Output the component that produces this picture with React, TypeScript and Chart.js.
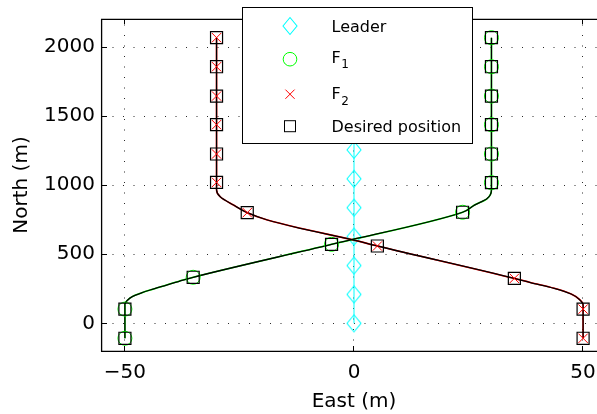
import React, { useEffect, useRef } from "react";
import { Chart, registerables } from "chart.js";

Chart.register(...registerables);

const FONT = "'DejaVu Sans', sans-serif";

// axis ticks / labels
const xTicks = [-50, 0, 50];
const yTicks = [0, 500, 1000, 1500, 2000];
const xLabel = "East (m)";
const yLabel = "North (m)";
const legendMain = ["Leader", "F", "F", "Desired position"];
const legendSub = ["", "1", "2", ""];

// leader positions
const leaderEast = [0, 0, 0, 0, 0, 0, 0, 0, 0, 0, 0];
const leaderNorth = [0, 209, 418, 627, 836, 1045, 1254, 1463, 1672, 1881, 2090];

// follower 1 sampled positions
const f1East = [-50, -50, -35.1, -4.9, 23.7, 30, 30, 30, 30, 30, 30];
const f1North = [-108, 103, 333, 571, 803, 1017, 1224, 1436, 1643, 1855, 2065];

// follower 2 sampled positions
const f2East = [50, 50, 35.0, 5.1, -23.3, -30, -30, -30, -30, -30, -30];
const f2North = [-108, 103, 325, 559, 800, 1019, 1224, 1436, 1643, 1855, 2065];

// traced trajectories
const f1PathEast = [-50, -50, -50, -49.5, -48.3, -46.4, -44.5, -40.9, -37.3, -35.1, -4.9, 23.7, 26.3, 29.0, 30, 30, 30];
const f1PathNorth = [-108, 103, 139, 165, 195, 220, 241, 277, 313, 333, 571, 803, 855, 900, 964, 1017, 2065];

const f2PathEast = [50, 50, 50, 49.2, 47.4, 43.7, 38.5, 35.0, 5.1, -0.7, -11.7, -18.9, -23.3, -26.3, -29.2, -30, -30, -30];
const f2PathNorth = [-108, 103, 132, 173, 212, 253, 295, 325, 559, 607, 687, 747, 800, 855, 915, 964, 1019, 2065];

const CYAN = "#00ffff";
const GREEN = "#00ff00";
const RED = "#ff0000";

const pts = (xs: number[], ys: number[]) => xs.map((x, i) => ({ x, y: ys[i] }));

function makeDiamond(): HTMLCanvasElement {
  const c = document.createElement("canvas");
  c.width = 18;
  c.height = 20;
  const g = c.getContext("2d")!;
  g.strokeStyle = CYAN;
  g.lineWidth = 1.1;
  g.beginPath();
  g.moveTo(2, 10);
  g.lineTo(9, 1.5);
  g.lineTo(16, 10);
  g.lineTo(9, 18.5);
  g.closePath();
  g.stroke();
  return c;
}

export default function App() {
  const ref = useRef<HTMLCanvasElement>(null);

  useEffect(() => {
    if (!ref.current) return;
    const diamond = makeDiamond();

    const plugin = {
      id: "matlabStyle",
      beforeDatasetsDraw(chart: any) {
        const { ctx, chartArea: a, scales } = chart;
        ctx.save();
        ctx.strokeStyle = "#2a2a2a";
        ctx.lineWidth = 1;
        ctx.setLineDash([1, 9.5]);
        xTicks.forEach((v) => {
          const px = Math.round(scales.x.getPixelForValue(v)) - 0.5;
          ctx.beginPath();
          ctx.moveTo(px, a.bottom);
          ctx.lineTo(px, a.top);
          ctx.stroke();
        });
        yTicks.forEach((v) => {
          const py = Math.round(scales.y.getPixelForValue(v)) + 0.5;
          ctx.beginPath();
          ctx.moveTo(a.left, py);
          ctx.lineTo(a.right, py);
          ctx.stroke();
        });
        ctx.restore();
      },
      afterDatasetsDraw(chart: any) {
        const { ctx, chartArea: a, scales } = chart;
        ctx.save();
        ctx.strokeStyle = "#000";
        ctx.lineWidth = 1.3;
        ctx.beginPath();
        ctx.moveTo(a.right, a.top + 0.3);
        ctx.lineTo(a.left - 0.4, a.top + 0.3);
        ctx.lineTo(a.left - 0.4, a.bottom + 0.3);
        ctx.lineTo(a.right, a.bottom + 0.3);
        ctx.stroke();
        ctx.lineWidth = 1;
        xTicks.forEach((v) => {
          const px = Math.round(scales.x.getPixelForValue(v)) - 0.5;
          ctx.beginPath();
          ctx.moveTo(px, a.bottom);
          ctx.lineTo(px, a.bottom - 5);
          ctx.moveTo(px, a.top);
          ctx.lineTo(px, a.top + 5);
          ctx.stroke();
        });
        yTicks.forEach((v) => {
          const py = Math.round(scales.y.getPixelForValue(v)) + 0.5;
          ctx.beginPath();
          ctx.moveTo(a.left, py);
          ctx.lineTo(a.left + 5, py);
          ctx.stroke();
        });
        ctx.restore();
      },
      afterDraw(chart: any) {
        const { ctx, chartArea: a } = chart;
        ctx.save();
        // axis titles
        ctx.fillStyle = "#000";
        ctx.font = `20px ${FONT}`;
        ctx.textAlign = "center";
        ctx.textBaseline = "alphabetic";
        ctx.fillText(xLabel, (a.left + a.right) / 2, 406.5);
        ctx.save();
        ctx.translate(26.5, (a.top + a.bottom) / 2);
        ctx.rotate(-Math.PI / 2);
        ctx.fillText(yLabel, 0, 0);
        ctx.restore();

        // legend box
        ctx.fillStyle = "#fff";
        ctx.fillRect(242, 7, 230, 136);
        ctx.strokeStyle = "#000";
        ctx.lineWidth = 1;
        ctx.strokeRect(242.5, 7.5, 230, 136);

        const mx = 290;
        ctx.drawImage(diamond, mx - 9, 16);
        ctx.strokeStyle = GREEN;
        ctx.beginPath();
        ctx.arc(mx, 59.2, 6.8, 0, Math.PI * 2);
        ctx.stroke();
        ctx.strokeStyle = RED;
        ctx.beginPath();
        ctx.moveTo(mx - 4.6, 94.2 - 4.6);
        ctx.lineTo(mx + 4.6, 94.2 + 4.6);
        ctx.moveTo(mx + 4.6, 94.2 - 4.6);
        ctx.lineTo(mx - 4.6, 94.2 + 4.6);
        ctx.stroke();
        ctx.strokeStyle = "#000";
        ctx.strokeRect(mx - 5.5, 126.2 - 5.5, 11, 11);

        ctx.fillStyle = "#000";
        ctx.textAlign = "left";
        const tx = 331.5;
        const baselines = [32, 62.7, 99.3, 132.3];
        const subBase = [0, 68.3, 105, 0];
        legendMain.forEach((t, i) => {
          ctx.font = `16px ${FONT}`;
          ctx.fillText(t, tx, baselines[i]);
          if (legendSub[i]) {
            const w = ctx.measureText(t).width;
            ctx.font = `12px ${FONT}`;
            ctx.fillText(legendSub[i], tx + w + 0.5, subBase[i]);
          }
        });
        ctx.restore();
      },
    };

    const lineCommon = {
      pointRadius: 0,
      cubicInterpolationMode: "monotone" as const,
      fill: false,
    };

    const chart = new Chart(ref.current, {
      type: "line",
      data: {
        datasets: [
          {
            label: "Leader",
            data: pts(leaderEast, leaderNorth),
            borderColor: CYAN,
            borderWidth: 1,
            pointStyle: diamond as any,
            pointRadius: 7,
            pointBorderColor: CYAN,
            pointBackgroundColor: "rgba(0,0,0,0)",
            order: 10,
          },
          {
            label: "F1 path",
            data: pts(f1PathEast, f1PathNorth),
            borderColor: GREEN,
            borderWidth: 1.6,
            ...lineCommon,
            order: 9,
          },
          {
            label: "F2 path",
            data: pts(f2PathEast, f2PathNorth),
            borderColor: RED,
            borderWidth: 1.6,
            ...lineCommon,
            order: 9,
          },
          {
            label: "Desired F1 path",
            data: pts(f1PathEast, f1PathNorth),
            borderColor: "#000",
            borderWidth: 1.3,
            ...lineCommon,
            order: 8,
          },
          {
            label: "Desired F2 path",
            data: pts(f2PathEast, f2PathNorth),
            borderColor: "#000",
            borderWidth: 1.3,
            ...lineCommon,
            order: 8,
          },
          {
            label: "F1",
            data: pts(f1East, f1North),
            showLine: false,
            pointStyle: "circle",
            pointRadius: 7,
            pointBorderWidth: 1,
            pointBorderColor: GREEN,
            pointBackgroundColor: "rgba(0,0,0,0)",
            order: 7,
          },
          {
            label: "Desired position F1",
            data: pts(f1East, f1North),
            showLine: false,
            pointStyle: "rect",
            pointRadius: 8.5,
            pointBorderWidth: 1.2,
            pointBorderColor: "#000",
            pointBackgroundColor: "rgba(0,0,0,0)",
            order: 6,
          },
          {
            label: "Desired position F2",
            data: pts(f2East, f2North),
            showLine: false,
            pointStyle: "rect",
            pointRadius: 8.5,
            pointBorderWidth: 1.2,
            pointBorderColor: "#000",
            pointBackgroundColor: "rgba(0,0,0,0)",
            order: 6,
          },
          {
            label: "F2",
            data: pts(f2East, f2North),
            showLine: false,
            pointStyle: "crossRot",
            pointRadius: 6.6,
            pointBorderWidth: 1,
            pointBorderColor: RED,
            pointBackgroundColor: "rgba(0,0,0,0)",
            order: 5,
          },
        ],
      },
      options: {
        responsive: false,
        animation: false,
        devicePixelRatio: 1,
        indexAxis: "y",
        events: [],
        layout: { autoPadding: false, padding: { left: 0, top: 19, right: 0, bottom: 0 } },
        plugins: { legend: { display: false }, tooltip: { enabled: false } },
        scales: {
          x: {
            type: "linear",
            position: "bottom",
            min: -55,
            max: 55,
            grid: { display: false, drawTicks: false },
            border: { display: false },
            ticks: {
              maxRotation: 0,
              minRotation: 0,
              autoSkip: false,
              color: "#000",
              padding: 10,
              font: { family: FONT, size: 20 },
              callback: (v: any) => (Number(v) < 0 ? "\u2212" + Math.abs(Number(v)) : String(v)),
            },
            afterBuildTicks: (s: any) => {
              s.ticks = xTicks.map((v) => ({ value: v }));
            },
            afterFit: (s: any) => {
              s.height = 63;
              s.paddingLeft = 0;
              s.paddingRight = 0;
            },
          },
          y: {
            type: "linear",
            position: "left",
            min: -200,
            max: 2200,
            grid: { display: false, drawTicks: false },
            border: { display: false },
            ticks: {
              autoSkip: false,
              color: "#000",
              padding: 7,
              font: { family: FONT, size: 20 },
              callback: (v: any) => String(v),
            },
            afterBuildTicks: (s: any) => {
              s.ticks = yTicks.map((v) => ({ value: v }));
            },
            afterFit: (s: any) => {
              s.width = 102;
              s.paddingTop = 0;
              s.paddingBottom = 0;
            },
          },
        },
      } as any,
      plugins: [plugin],
    });

    return () => chart.destroy();
  }, []);

  return (
    <div
      style={{
        position: "fixed",
        left: 0,
        top: 0,
        width: 597,
        height: 414,
        overflow: "hidden",
        background: "#fff",
      }}
    >
      <canvas ref={ref} width={606} height={414} style={{ display: "block", width: 606, height: 414 }} />
    </div>
  );
}
